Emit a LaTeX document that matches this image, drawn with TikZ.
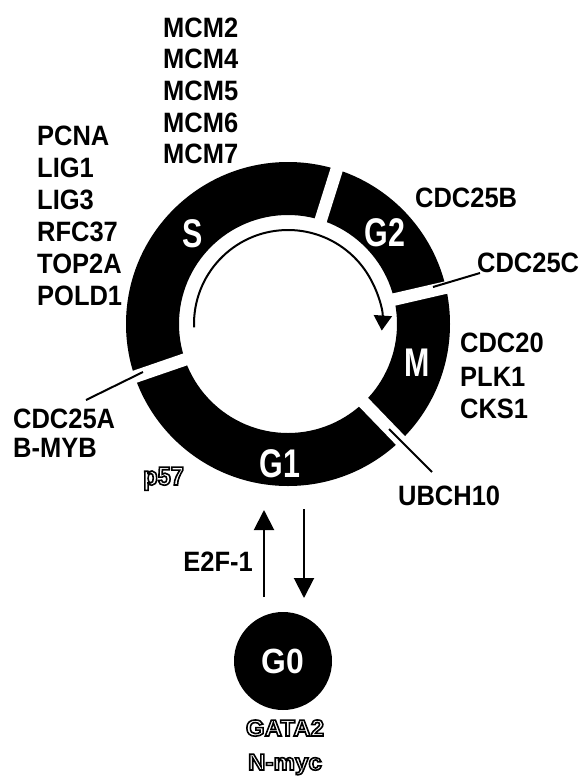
\documentclass[tikz,border=0pt]{standalone}
\usepackage{fontspec}
\usetikzlibrary{arrows.meta}
\newfontfamily\lab{Liberation Sans}[FakeStretch=0.91]
\newfontfamily\phf{Liberation Sans}[FakeStretch=0.76]
\newfontfamily\wid{Liberation Sans}[FakeStretch=1.05]
\newcommand{\outlinetext}[1]{\special{pdf:literal direct 1 Tr 1.6 w}#1\special{pdf:literal direct 0 Tr}}
\begin{document}
\begin{tikzpicture}[x=1pt,y=-1pt,
  gene/.style={anchor=base west,inner sep=0pt,font=\lab\bfseries\fontsize{28}{32}\selectfont},
  phase/.style={text=white,inner sep=0pt,font=\phf\bfseries\fontsize{40}{44}\selectfont},
  outl/.style={inner sep=0pt,font=\wid\bfseries\fontsize{23}{26}\selectfont},
  gapline/.style={white,line width=12.5pt},
  leader/.style={line width=2pt},
  bigarrow/.style={line width=2pt,-{Triangle[length=20pt,width=20pt]}},
  ]
\useasboundingbox (0,0) rectangle (584,777);
\coordinate (c) at (288,324);
% ring
\fill[black,even odd rule] (c) circle[radius=162pt] (c) circle[radius=109pt];
% gaps
\foreach \a/\n in {72.5/sg,13/gm,-46/mg,199/gs}{
  \draw[gapline] ([shift={(\a:100pt)}]c) -- ([shift={(\a:172pt)}]c);
}
% phase labels
\node[phase] (S) at (193,234) {S};
\node[phase] (G2) at (385,233) {G2};
\node[phase] (M) at (417.5,362.5) {M};
\node[phase] (G1) at (280,463.5) {G1};
% inner arrow
\draw[line width=2pt,-{Triangle[length=15pt,width=18pt]}]
  ([shift={(182:94pt)}]c) arc[start angle=182,end angle=-4,radius=94pt];
% leaders
\coordinate (l25c a) at (433,287); \coordinate (l25c b) at (480,273);
\coordinate (l25a a) at (143,372); \coordinate (l25a b) at (86,400);
\coordinate (lub a) at (389,429); \coordinate (lub b) at (432,472);
\draw[leader] (l25c a) -- (l25c b);
\draw[leader] (l25a a) -- (l25a b);
\draw[leader] (lub a) -- (lub b);
% gene lists
\foreach \t [count=\i] in {MCM2,MCM4,MCM5,MCM6,MCM7}{
  \node[gene] (mcm\i) at (163,{37+31.7*(\i-1)}) {\t};
}
\foreach \t [count=\i] in {PCNA,LIG1,LIG3,RFC37,TOP2A,POLD1}{
  \node[gene] (sg\i) at (37,{145+32*(\i-1)}) {\t};
}
\node[gene] (cdc25b) at (415,207) {CDC25B};
\node[gene] (cdc25c) at (477,272) {CDC25C};
\node[gene] (cdc20) at (460,352) {CDC20};
\node[gene] (plk1) at (460,386) {PLK1};
\node[gene] (cks1) at (460,418) {CKS1};
\node[gene] (ubch10) at (398,505) {UBCH10};
\node[gene] (cdc25a) at (13,428) {CDC25A};
\node[gene] (bmyb) at (13,457) {B-MYB};
\node[gene,anchor=base east] (e2f) at (253,571) {E2F-1};
\node[outl,anchor=base west,font=\lab\bfseries\fontsize{26}{28}\selectfont] (p57) at (143,485) {\outlinetext{p57}};
% G1 <-> G0 arrows
\coordinate (up a) at (264,597); \coordinate (up b) at (264,510);
\coordinate (dn a) at (304,509); \coordinate (dn b) at (304,598);
\draw[bigarrow] (up a) -- (up b);
\draw[bigarrow] (dn a) -- (dn b);
% G0
\node[circle,fill=black,minimum size=98pt,inner sep=0pt] (g0) at (283,661) {};
\node[text=white,inner sep=0pt,font=\lab\bfseries\fontsize{35}{40}\selectfont] (g0t) at (g0) {G0};
\node[outl,anchor=base] (gata2) at (285,736) {\outlinetext{GATA2}};
\node[outl,anchor=base] (nmyc) at (285,770) {\outlinetext{N-myc}};
\end{tikzpicture}
\end{document}
